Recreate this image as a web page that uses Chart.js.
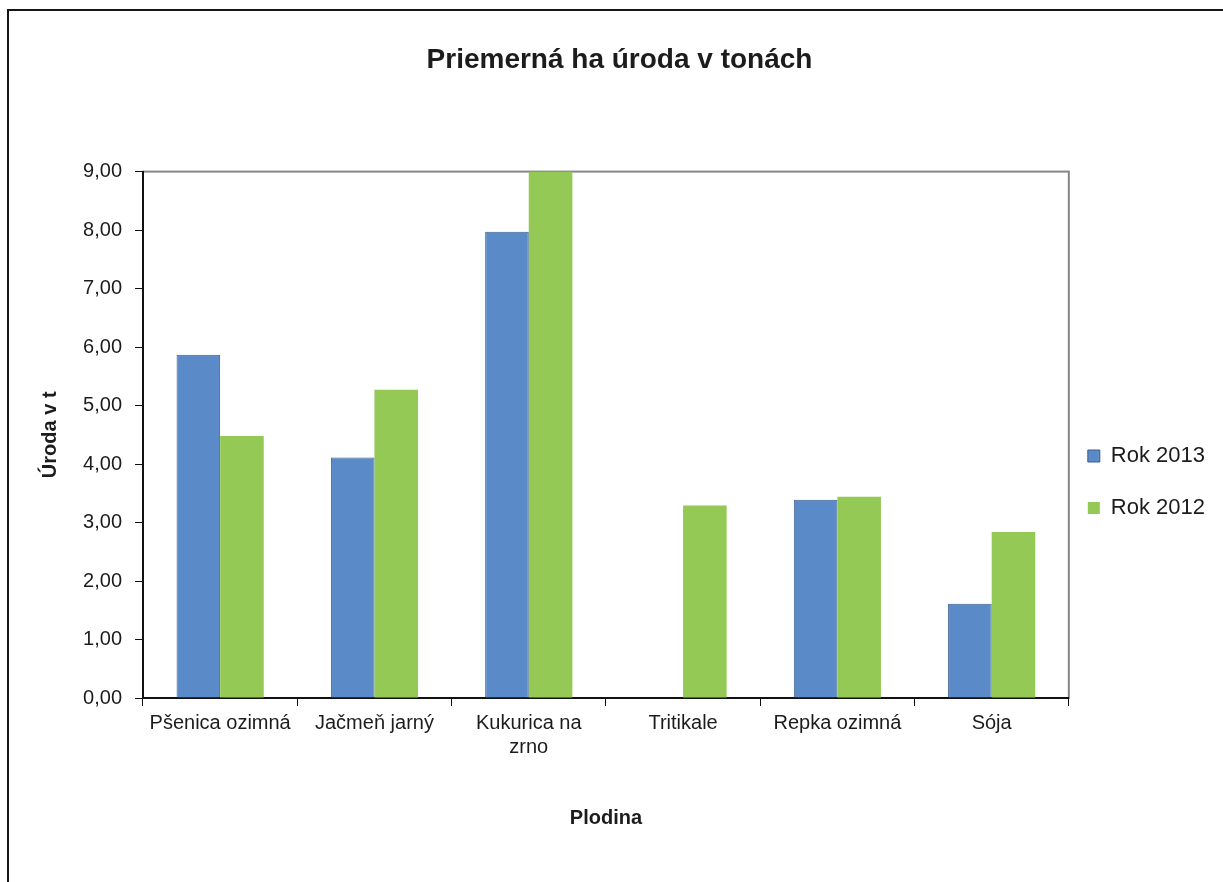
<!DOCTYPE html>
<html>
<head>
<meta charset="utf-8">
<script src="https://cdn.jsdelivr.net/npm/chart.js@4.4.0/dist/chart.umd.min.js"></script>
<style>
  html, body { margin: 0; padding: 0; background: #fff; overflow: hidden; }
  #frame { position: absolute; left: 7px; top: 9px; width: 1300px; height: 1000px;
           border-top: 2px solid #161616; border-left: 2px solid #161616; }
  #graf { position: absolute; left: 0; top: 0; }
</style>
</head>
<body>
<canvas id="graf" width="1223" height="882"></canvas>
<div id="frame"></div>
<script>
var plodiny = ["Pšenica ozimná", "Jačmeň jarný", ["Kukurica na", "zrno"], "Tritikale", "Repka ozimná", "Sója"];
var rok2013 = [5.87, 4.11, 7.97, 0, 3.39, 1.61];
var rok2012 = [4.48, 5.27, 9.00, 3.29, 3.44, 2.84];
var yTicks = [0, 1, 2, 3, 4, 5, 6, 7, 8, 9];

var pismo = "'Liberation Sans', Arial, sans-serif";
var farbaTextu = "#1c1c1c";

// seda ramcek okolo plochy grafu (os y a x sa prekreslia cierno)
var ramcek = {
    id: "ramcek",
    beforeDraw: function (chart) {
        var a = chart.chartArea, ctx = chart.ctx;
        ctx.save();
        ctx.strokeStyle = "#868686";
        ctx.lineWidth = 2;
        ctx.strokeRect(a.left, a.top, a.right - a.left, a.bottom - a.top);
        ctx.restore();
    }
};

// legenda trochu nizsie a blizsie ku grafu
var posunLegendy = {
    id: "posunLegendy",
    afterLayout: function (chart) {
        var l = chart.legend;
        l.left -= 11; l.right -= 11;
        l.top += 41; l.bottom += 41;
    }
};

new Chart(document.getElementById("graf").getContext("2d"), {
    type: "bar",
    data: {
        labels: plodiny,
        datasets: [
            {
                label: "Rok 2013",
                data: rok2013,
                backgroundColor: "#5A8AC8",
                borderColor: "#3B5F8E",
                borderWidth: 1,
                categoryPercentage: 0.565,
                barPercentage: 1.0
            },
            {
                label: "Rok 2012",
                data: rok2012,
                backgroundColor: "#93C954",
                borderColor: "#93C954",
                borderWidth: 0,
                categoryPercentage: 0.565,
                barPercentage: 1.0
            }
        ]
    },
    options: {
        responsive: false,
        animation: false,
        layout: { padding: { left: 13, right: -3, top: 0, bottom: 0 } },
        plugins: {
            title: {
                display: true,
                text: "Priemerná ha úroda v tonách",
                color: farbaTextu,
                font: { family: pismo, size: 28, weight: "bold" },
                padding: { top: 43, bottom: 95 }
            },
            legend: {
                position: "right",
                align: "center",
                labels: {
                    color: farbaTextu,
                    font: { family: pismo, size: 22 },
                    boxWidth: 12,
                    boxHeight: 12,
                    padding: 30
                }
            },
            tooltip: { enabled: false }
        },
        scales: {
            x: {
                afterFit: function (s) { s.height = 184; },
                grid: { display: true, offset: true, drawOnChartArea: false, drawTicks: true,
                        tickLength: 8, color: "#111", lineWidth: 1 },
                border: { display: true, color: "#111", width: 2 },
                ticks: { color: farbaTextu, font: { family: pismo, size: 20 }, padding: 5,
                         maxRotation: 0, autoSkip: false },
                title: { display: true, text: "Plodina", color: farbaTextu,
                         font: { family: pismo, size: 20, weight: "bold" },
                         padding: { top: 4, bottom: 52 } }
            },
            y: {
                min: 0,
                max: 9,
                afterFit: function (s) { s.width = 130; },
                afterBuildTicks: function (s) {
                    s.ticks = yTicks.map(function (v) { return { value: v }; });
                },
                grid: { display: true, drawOnChartArea: false, drawTicks: true,
                        tickLength: 8, color: "#111", lineWidth: 1 },
                border: { display: true, color: "#111", width: 2 },
                ticks: {
                    color: farbaTextu,
                    font: { family: pismo, size: 20 },
                    padding: 13,
                    callback: function (v) { return v.toFixed(2).replace(".", ","); }
                },
                title: { display: true, text: "Úroda v t", color: farbaTextu,
                         font: { family: pismo, size: 20, weight: "bold" },
                         padding: { top: 25, bottom: 0 } }
            }
        }
    },
    plugins: [ramcek, posunLegendy]
});
</script>
</body>
</html>
